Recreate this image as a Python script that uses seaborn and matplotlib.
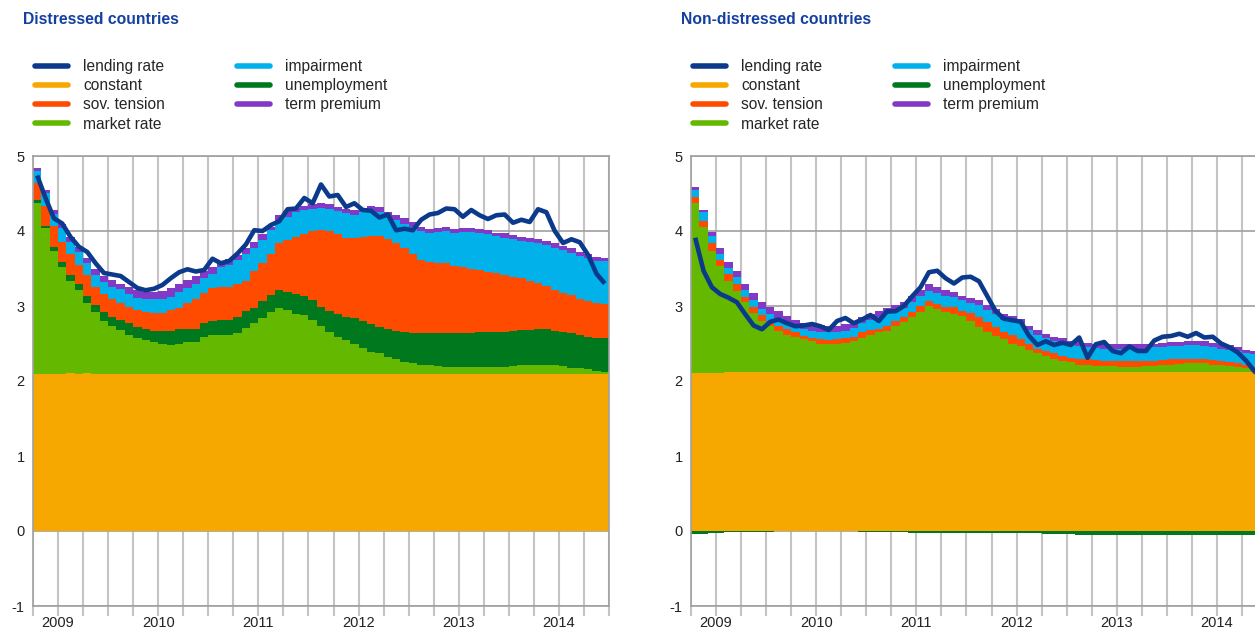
import numpy as np
import pandas as pd
import matplotlib
matplotlib.use("Agg")
import matplotlib.pyplot as plt
from matplotlib.lines import Line2D
import seaborn as sns

# monthly observations, Oct 2008 - Jun 2014
months = pd.date_range("2008-10-01", periods=69, freq="MS")
years = ["2009", "2010", "2011", "2012", "2013", "2014"]
labels = ["lending rate", "constant", "sov. tension", "market rate",
          "impairment", "unemployment", "term premium"]

# ---- distressed countries: top of each stacked layer
dist_const = [2.10, 2.10, 2.10, 2.10, 2.11, 2.10, 2.11, 2.10, 2.10, 2.10,
              2.10, 2.10, 2.10, 2.10, 2.10, 2.10, 2.10, 2.10, 2.10, 2.10,
              2.10, 2.10, 2.10, 2.10, 2.10, 2.10, 2.10, 2.10, 2.10, 2.10,
              2.10, 2.10, 2.10, 2.10, 2.10, 2.10, 2.10, 2.10, 2.10, 2.10,
              2.10, 2.10, 2.10, 2.10, 2.10, 2.10, 2.10, 2.10, 2.10, 2.10,
              2.10, 2.10, 2.10, 2.10, 2.10, 2.10, 2.10, 2.10, 2.10, 2.10,
              2.10, 2.10, 2.10, 2.10, 2.10, 2.10, 2.10, 2.10, 2.10]
dist_market_lvl = [4.38, 4.04, 3.74, 3.52, 3.34, 3.21, 3.04, 2.92, 2.80, 2.74,
                   2.68, 2.62, 2.58, 2.55, 2.52, 2.49, 2.48, 2.50, 2.52, 2.52,
                   2.59, 2.61, 2.62, 2.61, 2.64, 2.71, 2.77, 2.84, 2.92, 2.97,
                   2.95, 2.90, 2.88, 2.82, 2.73, 2.66, 2.59, 2.55, 2.49, 2.44,
                   2.39, 2.37, 2.32, 2.30, 2.26, 2.24, 2.22, 2.21, 2.20, 2.19,
                   2.19, 2.19, 2.19, 2.19, 2.19, 2.19, 2.19, 2.20, 2.21, 2.22,
                   2.22, 2.22, 2.21, 2.20, 2.18, 2.17, 2.16, 2.14, 2.12]
dist_unemp_lvl = [4.41, 4.07, 3.79, 3.59, 3.41, 3.29, 3.13, 3.01, 2.92, 2.86,
                  2.81, 2.77, 2.72, 2.69, 2.67, 2.67, 2.67, 2.69, 2.70, 2.70,
                  2.77, 2.80, 2.82, 2.81, 2.85, 2.94, 2.98, 3.07, 3.15, 3.21,
                  3.19, 3.16, 3.14, 3.08, 2.99, 2.93, 2.89, 2.86, 2.84, 2.80,
                  2.76, 2.72, 2.70, 2.67, 2.65, 2.64, 2.64, 2.64, 2.64, 2.64,
                  2.64, 2.64, 2.64, 2.66, 2.66, 2.66, 2.66, 2.67, 2.68, 2.68,
                  2.69, 2.69, 2.67, 2.66, 2.64, 2.61, 2.59, 2.58, 2.57]
dist_sov_lvl = [4.64, 4.34, 4.07, 3.85, 3.69, 3.55, 3.41, 3.26, 3.16, 3.10,
                3.04, 2.99, 2.95, 2.92, 2.91, 2.91, 2.95, 2.98, 3.04, 3.09,
                3.17, 3.24, 3.26, 3.26, 3.30, 3.33, 3.47, 3.58, 3.69, 3.84,
                3.88, 3.92, 3.96, 4.00, 4.01, 4.00, 3.96, 3.91, 3.91, 3.92,
                3.93, 3.93, 3.89, 3.84, 3.77, 3.70, 3.61, 3.59, 3.58, 3.58,
                3.53, 3.52, 3.50, 3.48, 3.46, 3.44, 3.41, 3.39, 3.37, 3.33,
                3.31, 3.27, 3.21, 3.18, 3.15, 3.10, 3.07, 3.04, 3.03]
dist_imp_lvl = [4.80, 4.51, 4.23, 4.04, 3.85, 3.72, 3.57, 3.42, 3.32, 3.26,
                3.23, 3.16, 3.11, 3.09, 3.09, 3.09, 3.12, 3.19, 3.24, 3.30,
                3.37, 3.43, 3.52, 3.55, 3.61, 3.69, 3.77, 3.88, 4.01, 4.15,
                4.19, 4.25, 4.28, 4.30, 4.31, 4.30, 4.27, 4.24, 4.22, 4.26,
                4.28, 4.26, 4.19, 4.15, 4.10, 4.06, 4.00, 3.97, 3.99, 4.00,
                3.98, 3.99, 3.99, 3.98, 3.96, 3.93, 3.91, 3.89, 3.87, 3.85,
                3.84, 3.81, 3.78, 3.75, 3.71, 3.67, 3.64, 3.60, 3.60]
dist_term_lvl = [4.84, 4.55, 4.28, 4.09, 3.92, 3.79, 3.64, 3.50, 3.40, 3.35,
                 3.30, 3.25, 3.22, 3.19, 3.19, 3.20, 3.24, 3.30, 3.35, 3.40,
                 3.47, 3.52, 3.60, 3.63, 3.68, 3.77, 3.85, 3.96, 4.06, 4.22,
                 4.27, 4.31, 4.34, 4.36, 4.37, 4.36, 4.32, 4.29, 4.28, 4.31,
                 4.34, 4.32, 4.25, 4.21, 4.17, 4.12, 4.06, 4.03, 4.04, 4.06,
                 4.03, 4.04, 4.04, 4.03, 4.01, 3.98, 3.97, 3.95, 3.92, 3.91,
                 3.89, 3.87, 3.84, 3.80, 3.77, 3.72, 3.69, 3.66, 3.64]
dist_rate = [4.74, 4.44, 4.17, 4.10, 3.92, 3.79, 3.72, 3.57, 3.44, 3.42,
             3.40, 3.32, 3.24, 3.21, 3.23, 3.28, 3.37, 3.45, 3.49, 3.46,
             3.48, 3.63, 3.57, 3.60, 3.70, 3.82, 4.01, 4.00, 4.08, 4.13,
             4.29, 4.30, 4.44, 4.37, 4.62, 4.46, 4.48, 4.32, 4.37, 4.28,
             4.27, 4.18, 4.22, 4.01, 4.03, 4.01, 4.15, 4.22, 4.24, 4.30,
             4.29, 4.19, 4.28, 4.21, 4.16, 4.21, 4.22, 4.11, 4.15, 4.12,
             4.29, 4.25, 4.00, 3.84, 3.89, 3.85, 3.68, 3.43, 3.30]

# ---- non-distressed countries
nd_const = [2.11, 2.11, 2.11, 2.11, 2.12, 2.12, 2.12, 2.12, 2.12, 2.12,
            2.12, 2.12, 2.12, 2.12, 2.12, 2.12, 2.12, 2.12, 2.12, 2.12,
            2.12, 2.12, 2.12, 2.12, 2.12, 2.12, 2.12, 2.12, 2.12, 2.12,
            2.12, 2.12, 2.12, 2.12, 2.12, 2.12, 2.12, 2.12, 2.12, 2.12,
            2.12, 2.12, 2.12, 2.12, 2.12, 2.12, 2.12, 2.12, 2.12, 2.12,
            2.12, 2.12, 2.12, 2.12, 2.12, 2.12, 2.12, 2.12, 2.12, 2.12,
            2.12, 2.12, 2.12, 2.12, 2.12, 2.12, 2.12, 2.12, 2.12]
nd_market_lvl = [4.38, 4.05, 3.74, 3.53, 3.33, 3.20, 3.05, 2.91, 2.80, 2.73,
                 2.67, 2.62, 2.59, 2.56, 2.53, 2.50, 2.49, 2.50, 2.51, 2.53,
                 2.58, 2.62, 2.65, 2.67, 2.73, 2.79, 2.85, 2.92, 3.00, 2.96,
                 2.92, 2.90, 2.87, 2.80, 2.72, 2.65, 2.60, 2.56, 2.50, 2.47,
                 2.42, 2.37, 2.33, 2.30, 2.27, 2.25, 2.22, 2.21, 2.20, 2.20,
                 2.20, 2.19, 2.19, 2.19, 2.20, 2.20, 2.21, 2.22, 2.23, 2.24,
                 2.24, 2.24, 2.22, 2.21, 2.20, 2.19, 2.17, 2.15, 2.14]
nd_sov_lvl = [4.46, 4.14, 3.84, 3.62, 3.43, 3.29, 3.12, 2.99, 2.88, 2.80,
              2.73, 2.69, 2.65, 2.60, 2.58, 2.56, 2.55, 2.56, 2.57, 2.59,
              2.65, 2.68, 2.70, 2.73, 2.80, 2.85, 2.92, 3.00, 3.07, 3.03,
              2.99, 2.99, 2.94, 2.91, 2.86, 2.79, 2.72, 2.65, 2.61, 2.56,
              2.49, 2.43, 2.40, 2.37, 2.34, 2.31, 2.30, 2.29, 2.28, 2.27,
              2.27, 2.27, 2.27, 2.27, 2.27, 2.27, 2.28, 2.29, 2.30, 2.30,
              2.30, 2.29, 2.28, 2.27, 2.25, 2.24, 2.21, 2.19, 2.18]
nd_imp_lvl = [4.55, 4.25, 3.93, 3.70, 3.51, 3.39, 3.21, 3.08, 2.96, 2.89,
              2.84, 2.78, 2.73, 2.69, 2.67, 2.65, 2.65, 2.65, 2.67, 2.71,
              2.77, 2.81, 2.86, 2.89, 2.93, 2.98, 3.06, 3.13, 3.20, 3.18,
              3.14, 3.12, 3.08, 3.04, 3.01, 2.95, 2.89, 2.82, 2.80, 2.77,
              2.68, 2.61, 2.57, 2.53, 2.50, 2.48, 2.47, 2.45, 2.44, 2.43,
              2.43, 2.43, 2.43, 2.43, 2.43, 2.45, 2.45, 2.47, 2.47, 2.48,
              2.48, 2.47, 2.45, 2.43, 2.42, 2.40, 2.37, 2.36, 2.34]
nd_term_lvl = [4.58, 4.28, 3.99, 3.77, 3.59, 3.47, 3.30, 3.17, 3.05, 2.99,
               2.93, 2.87, 2.81, 2.78, 2.76, 2.74, 2.73, 2.73, 2.76, 2.80,
               2.85, 2.89, 2.93, 2.97, 3.01, 3.05, 3.13, 3.21, 3.29, 3.25,
               3.21, 3.19, 3.14, 3.11, 3.08, 3.01, 2.96, 2.89, 2.87, 2.83,
               2.74, 2.68, 2.63, 2.59, 2.57, 2.54, 2.53, 2.51, 2.50, 2.49,
               2.49, 2.49, 2.49, 2.49, 2.49, 2.50, 2.51, 2.52, 2.52, 2.53,
               2.53, 2.53, 2.51, 2.50, 2.48, 2.45, 2.42, 2.40, 2.38]
# unemployment contribution is slightly negative here (stacked below zero)
nd_unemployment = [-0.04, -0.04, -0.03, -0.03, -0.015, -0.015, -0.01, -0.01, -0.01, -0.01,
                   0.0, 0.0, 0.0, 0.0, 0.0, 0.0, 0.0, 0.0, 0.0, 0.0,
                   -0.015, -0.015, -0.015, -0.015, -0.015, -0.015, -0.027, -0.027, -0.027, -0.027,
                   -0.027, -0.027, -0.027, -0.027, -0.027, -0.027, -0.027, -0.027, -0.027, -0.027,
                   -0.027, -0.027, -0.04, -0.04, -0.04, -0.04, -0.058, -0.058, -0.05, -0.05,
                   -0.05, -0.05, -0.05, -0.05, -0.05, -0.05, -0.05, -0.05, -0.05, -0.05,
                   -0.058, -0.058, -0.058, -0.058, -0.058, -0.058, -0.058, -0.058, -0.058]
nd_rate = [3.91, 3.47, 3.25, 3.16, 3.11, 3.05, 2.89, 2.74, 2.69, 2.79,
           2.82, 2.77, 2.73, 2.74, 2.76, 2.73, 2.68, 2.80, 2.84, 2.77,
           2.82, 2.88, 2.80, 2.93, 2.93, 3.00, 3.13, 3.25, 3.45, 3.47,
           3.37, 3.30, 3.38, 3.39, 3.33, 3.13, 2.93, 2.83, 2.81, 2.79,
           2.60, 2.48, 2.53, 2.48, 2.51, 2.48, 2.58, 2.31, 2.49, 2.52,
           2.40, 2.37, 2.46, 2.40, 2.40, 2.54, 2.59, 2.60, 2.63, 2.59,
           2.64, 2.58, 2.59, 2.50, 2.45, 2.38, 2.27, 2.13, 2.02]

# colours
c_rate = "#0b3a8c"
c_const = "#f6a800"
c_sov = "#ff4b00"
c_market = "#65b800"
c_imp = "#00b1ea"
c_unemp = "#00781e"
c_term = "#8139c6"
title_col = "#1440a0"
grid_col = "#c4c4c4"
hgrid_col = "#a0a0a0"

sns.set_theme(style="white")
plt.rcParams["font.family"] = ["Liberation Sans", "DejaVu Sans"]
plt.rcParams["axes.unicode_minus"] = False


def draw_panel(ax, levels, colors, rate, neg=None):
    x = np.arange(len(rate))
    base = np.zeros(len(rate))
    for lvl, col in zip(levels, colors):
        lvl = np.asarray(lvl)
        ax.bar(x, lvl - base, bottom=base, width=1.0, color=col,
               linewidth=0, antialiased=False, zorder=2)
        base = lvl
    if neg is not None:
        ax.bar(x, neg, bottom=0, width=1.0, color=c_unemp,
               linewidth=0, antialiased=False, zorder=2)
    sns.lineplot(x=x, y=rate, ax=ax, color=c_rate, linewidth=3.3,
                 legend=False, zorder=4, solid_joinstyle="round",
                 solid_capstyle="butt")

    # quarter boundaries for the grid, January boundaries for year labels
    quarters = [i - 0.5 for i, m in enumerate(months) if m.month in (1, 4, 7, 10)]
    quarters.append(len(months) - 0.5)
    jan = [i - 0.5 for i, m in enumerate(months) if m.month == 1]
    ax.set_xticks(jan)
    ax.set_xticklabels(years)
    ax.set_xticks(quarters, minor=True)
    ax.set_xlim(-0.5, len(months) - 0.5)
    ax.set_ylim(-1, 5)
    ax.set_yticks(range(-1, 6))
    ax.set_xlabel("")
    ax.set_ylabel("")

    ax.grid(False)
    ax.xaxis.grid(True, which="both", color=grid_col, linewidth=1.5, zorder=0)
    ax.yaxis.grid(True, color=hgrid_col, linewidth=1.2, zorder=0)
    ax.set_axisbelow(True)
    ax.tick_params(axis="x", which="both", direction="out", length=7,
                   width=1.5, color=grid_col, pad=0, labelsize=10.5,
                   labelcolor="#222222", bottom=True)
    ax.tick_params(axis="y", length=0, pad=6, labelsize=10.5, labelcolor="#222222")
    for s in ax.spines.values():
        s.set_visible(True)
        s.set_color(hgrid_col)
        s.set_linewidth(1.2)


W, H = 1255, 631
fig = plt.figure(figsize=(W / 100, H / 100), dpi=100)
ax1 = fig.add_axes([33 / W, 25 / H, 576 / W, 450 / H])
ax2 = fig.add_axes([691 / W, 25 / H, 576 / W, 450 / H])

draw_panel(ax1,
           [dist_const, dist_market_lvl, dist_unemp_lvl, dist_sov_lvl, dist_imp_lvl, dist_term_lvl],
           [c_const, c_market, c_unemp, c_sov, c_imp, c_term],
           dist_rate)
draw_panel(ax2,
           [nd_const, nd_market_lvl, nd_sov_lvl, nd_imp_lvl, nd_term_lvl],
           [c_const, c_market, c_sov, c_imp, c_term],
           nd_rate, neg=nd_unemployment)

handle_cols = [c_rate, c_const, c_sov, c_market, c_imp, c_unemp, c_term]
for ax, left, title in [(ax1, 35, "Distressed countries"),
                        (ax2, 693, "Non-distressed countries")]:
    handles = [Line2D([], [], color=c, linewidth=4) for c in handle_cols]
    ax.legend(handles, labels, ncol=2, loc="upper left",
              bbox_to_anchor=(left / W, 1 - 59 / H), bbox_transform=fig.transFigure,
              frameon=False, borderpad=0, borderaxespad=0, handlelength=2.15,
              handletextpad=0.95, columnspacing=4.62, labelspacing=0.27,
              fontsize=11.2)
    fig.text((left - 12) / W, 1 - 20 / H, title, color=title_col,
             fontweight="bold", fontsize=11.3, va="center", ha="left")

fig.savefig("out.png", dpi=100)
